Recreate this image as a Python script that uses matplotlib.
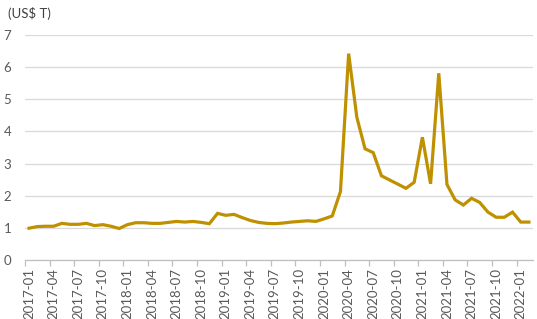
import numpy as np
import pandas as pd
import matplotlib
matplotlib.use('Agg')
import matplotlib.pyplot as plt

# Monthly values, 2017-01 .. 2022-02 (US$ T)
months = pd.period_range('2017-01', '2022-02', freq='M').strftime('%Y-%m').tolist()
values = [0.99, 1.04, 1.05, 1.05, 1.14, 1.11, 1.11, 1.14, 1.07, 1.10, 1.05, 0.98,
          1.10, 1.16, 1.16, 1.14, 1.14, 1.17, 1.20, 1.18, 1.20, 1.17, 1.13, 1.45,
          1.39, 1.42, 1.32, 1.23, 1.17, 1.14, 1.13, 1.15, 1.18, 1.20, 1.22, 1.20,
          1.28, 1.37, 2.13, 6.42, 4.44, 3.46, 3.34, 2.62, 2.49, 2.36, 2.23, 2.42,
          3.82, 2.37, 5.81, 2.35, 1.87, 1.71, 1.92, 1.79, 1.49, 1.33, 1.33, 1.49,
          1.18, 1.18]
y_ticks = [0, 1, 2, 3, 4, 5, 6, 7]
unit_label = '(US$ T)'

plt.rcParams['font.family'] = ['Lato', 'DejaVu Sans']

fig = plt.figure(figsize=(5.37, 3.19), dpi=100)
ax = fig.add_axes([25 / 537, 59 / 319, 508 / 537, 225 / 319])

x = np.arange(len(values))
ax.plot(x, values, color='#BF9000', lw=2.3, solid_joinstyle='miter', zorder=3)

ax.set_xlim(-0.5, len(values) - 0.5)
ax.set_ylim(0, 7)
ax.set_yticks(y_ticks)
ax.yaxis.grid(True, color='#D9D9D9', lw=0.9)
ax.set_axisbelow(True)

# labels every 3 months, tick marks on category boundaries
ax.set_xticks(x[::3])
ax.set_xticklabels(months[::3], rotation=90)
ax.set_xticks(x[::3] - 0.5, minor=True)
ax.tick_params(axis='x', which='major', length=0, pad=6, labelsize=9.5, labelcolor='#595959')
ax.tick_params(axis='x', which='minor', length=4, color='#BFBFBF', width=0.9)
ax.tick_params(axis='y', length=0, pad=10, labelsize=9.5, labelcolor='#595959')

for s in ['top', 'right', 'left']:
    ax.spines[s].set_visible(False)
ax.spines['bottom'].set_color('#BFBFBF')
ax.spines['bottom'].set_linewidth(0.9)

fig.text(8 / 537, 1 - 13 / 319, unit_label, fontsize=9.5, color='#404040', va='center')

fig.savefig('out.png', dpi=100)
